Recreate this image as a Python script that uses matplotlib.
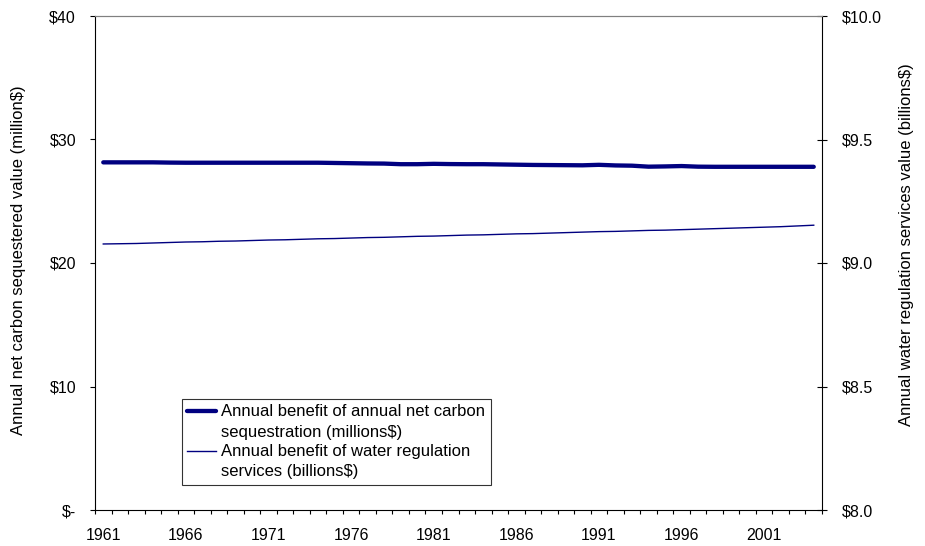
import matplotlib
matplotlib.use("Agg")
import matplotlib.pyplot as plt
from matplotlib.legend_handler import HandlerLine2D
import numpy as np

plt.rcParams["font.family"] = ["Liberation Sans", "DejaVu Sans"]
plt.rcParams["font.size"] = 12

# ---------- data ----------
years = list(range(1961, 2005))
carbon_musd = [28.15, 28.15, 28.15, 28.15, 28.13, 28.12, 28.12, 28.12, 28.12, 28.12,
               28.12, 28.12, 28.12, 28.12, 28.10, 28.08, 28.06, 28.05, 28.00, 28.00,
               28.03, 28.01, 28.00, 28.00, 27.98, 27.96, 27.94, 27.93, 27.92, 27.91,
               27.95, 27.90, 27.88, 27.80, 27.82, 27.85, 27.80, 27.79, 27.79, 27.79,
               27.79, 27.79, 27.79, 27.79]
water_busd = [9.077, 9.078, 9.079, 9.081, 9.083, 9.085, 9.086, 9.088, 9.089, 9.091,
              9.093, 9.094, 9.096, 9.098, 9.099, 9.101, 9.103, 9.104, 9.106, 9.108,
              9.109, 9.111, 9.113, 9.114, 9.116, 9.118, 9.119, 9.121, 9.123, 9.125,
              9.127, 9.128, 9.130, 9.132, 9.133, 9.135, 9.137, 9.139, 9.141, 9.143,
              9.145, 9.147, 9.150, 9.153]
left_ticks = [0, 10, 20, 30, 40]
right_ticks = [8.0, 8.5, 9.0, 9.5, 10.0]
labels = ["Annual benefit of annual net carbon\nsequestration (millions$)",
          "Annual benefit of water regulation\nservices (billions$)"]

NAVY = "#000080"
W, H = 925, 546


# legend handle sits level with the first text line, as in Excel
class TopLine(HandlerLine2D):
    def create_artists(self, legend, orig_handle, xdescent, ydescent, width,
                       height, fontsize, trans):
        arts = super().create_artists(legend, orig_handle, xdescent, ydescent,
                                      width, height, fontsize, trans)
        for a in arts:
            a.set_ydata(np.asarray(a.get_ydata()) + fontsize * 0.68)
        return arts


fig = plt.figure(figsize=(W / 100, H / 100), dpi=100)
ax = fig.add_axes([95 / W, 1 - 510 / H, (822 - 95) / W, (510 - 16) / H])
ax2 = ax.twinx()

x = np.arange(len(years))
l1, = ax.plot(x, carbon_musd, color=NAVY, lw=3.1, solid_capstyle="round", zorder=3)
l2, = ax2.plot(x, water_busd, color=NAVY, lw=1.0, zorder=3)

# x axis: category style, ticks between categories
ax.set_xlim(-0.5, len(years) - 0.5)
ax.set_xticks(x[::5])
ax.set_xticklabels([str(y) for y in years[::5]])
ax.set_xticks(np.arange(-0.5, len(years), 1.0), minor=True)
ax.tick_params(axis="x", which="major", length=0, pad=13, labelsize=11.5)
ax.tick_params(axis="x", which="minor", length=3, width=0.8, direction="out")

# left axis
ax.set_ylim(0, 40)
ax.set_yticks(left_ticks)
ax.set_yticklabels(["$-" if v == 0 else f"${v}" for v in left_ticks])
ax.tick_params(axis="y", length=3.6, width=0.8, pad=10, labelsize=11.5)

# right axis
ax2.set_ylim(8, 10)
ax2.set_yticks(right_ticks)
ax2.set_yticklabels([f"${v:.1f}" for v in right_ticks])
ax2.tick_params(axis="y", length=7, width=0.8, direction="inout", pad=10.5, labelsize=11.5)

for a in (ax, ax2):
    a.spines["top"].set_color("#808080")
    a.spines["top"].set_linewidth(0.8)
ax.spines["right"].set_visible(False)
ax2.spines["left"].set_visible(False)
ax2.spines["bottom"].set_visible(False)
ax.spines["left"].set_linewidth(0.8)
ax.spines["bottom"].set_linewidth(0.8)
ax2.spines["right"].set_linewidth(0.8)

fig.text(19 / W, 1 - 260 / H, "Annual net carbon sequestered value (million$)",
         rotation=90, ha="center", va="center", fontsize=12)
fig.text(906 / W, 1 - 245 / H, "Annual water regulation services value (billions$)",
         rotation=90, ha="center", va="center", fontsize=12)

leg = ax2.legend(handles=[l1, l2], labels=labels, loc="lower left",
                 bbox_to_anchor=(0.119, 0.05), borderaxespad=0, frameon=True,
                 fancybox=False, edgecolor="black", fontsize=12, handlelength=1.7,
                 handletextpad=0.3, borderpad=0.35, labelspacing=0.25,
                 handler_map={l1: TopLine(), l2: TopLine()})
for t in leg.get_texts():
    t.set_linespacing(1.45)
leg.get_frame().set_linewidth(0.8)

fig.savefig("out.png", dpi=100)
